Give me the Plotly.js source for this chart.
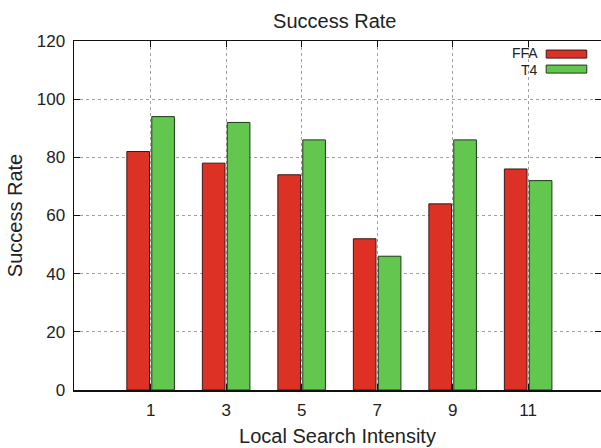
<!DOCTYPE html>
<html>
<head>
<meta charset="utf-8">
<script src="https://cdn.plot.ly/plotly-3.0.1.min.js"></script>
<style>html,body{margin:0;padding:0;background:#fff;}#chart{width:601px;height:448px;}</style>
</head>
<body>
<div id="chart"></div>
<script>
const categories = [1, 3, 5, 7, 9, 11];
const ffaValues = [82, 78, 74, 52, 64, 76];
const t4Values = [94, 92, 86, 46, 86, 72];
const seriesNames = ["FFA", "T4"];
const yTicks = [0, 20, 40, 60, 80, 100, 120];

const red = "#dd3126";
const green = "#62c64f";
const font = "Liberation Sans, Arial, Helvetica, sans-serif";

const traces = [
  {type: "bar", name: seriesNames[0], x: categories, y: ffaValues,
   width: 0.6, offset: -0.63, showlegend: false,
   marker: {color: red, line: {color: "#3a1a14", width: 1}}},
  {type: "bar", name: seriesNames[1], x: categories, y: t4Values,
   width: 0.6, offset: 0.03, showlegend: false,
   marker: {color: green, line: {color: "#1e3a18", width: 1}}}
];

const layout = {
  width: 601, height: 448,
  margin: {l: 74, r: 0, t: 41, b: 58},
  paper_bgcolor: "#fff", plot_bgcolor: "#fff",
  font: {family: font, color: "#222", size: 17},
  title: {text: "Success Rate", font: {size: 20, color: "#222"}, x: 0.557, xanchor: "center", y: 0.953, yanchor: "middle"},
  xaxis: {
    range: [-1.03, 12.93], tickvals: categories, ticktext: categories.map(String),
    showgrid: true, gridcolor: "#a0a0a0", griddash: "dot", gridwidth: 1,
    showline: true, linecolor: "#111", linewidth: 1.5, mirror: "ticks",
    ticks: "inside", ticklen: 6, tickcolor: "#111",
    zeroline: false, ticklabelstandoff: 4,
    tickfont: {size: 17, color: "#222"},
    title: {text: "Local Search Intensity", font: {size: 20, color: "#222"}, standoff: 10}
  },
  yaxis: {
    range: [0, 120], tickvals: yTicks,
    showgrid: true, gridcolor: "#a0a0a0", griddash: "dot", gridwidth: 1,
    showline: true, linecolor: "#111", linewidth: 1.5, mirror: "ticks",
    ticks: "inside", ticklen: 6, tickcolor: "#111",
    zeroline: false, ticklabelstandoff: 4,
    tickfont: {size: 17, color: "#222"},
    title: {text: "Success Rate", font: {size: 20, color: "#222"}, standoff: 8}
  },
  shapes: [
    {type: "rect", xref: "paper", yref: "paper", x0: 0.896, x1: 0.973, y0: 0.951, y1: 0.974,
     fillcolor: red, line: {color: "#3a1a14", width: 1}},
    {type: "rect", xref: "paper", yref: "paper", x0: 0.896, x1: 0.973, y0: 0.908, y1: 0.931,
     fillcolor: green, line: {color: "#1e3a18", width: 1}}
  ],
  annotations: [
    {xref: "paper", yref: "paper", x: 0.882, y: 0.965, xanchor: "right", yanchor: "middle",
     text: seriesNames[0], showarrow: false, height: 14, borderpad: 0, font: {size: 14, color: "#222"}},
    {xref: "paper", yref: "paper", x: 0.882, y: 0.918, xanchor: "right", yanchor: "middle",
     text: seriesNames[1], showarrow: false, height: 14, borderpad: 0, font: {size: 14, color: "#222"}}
  ]
};

Plotly.newPlot("chart", traces, layout, {displayModeBar: false, staticPlot: true});
</script>
</body>
</html>
